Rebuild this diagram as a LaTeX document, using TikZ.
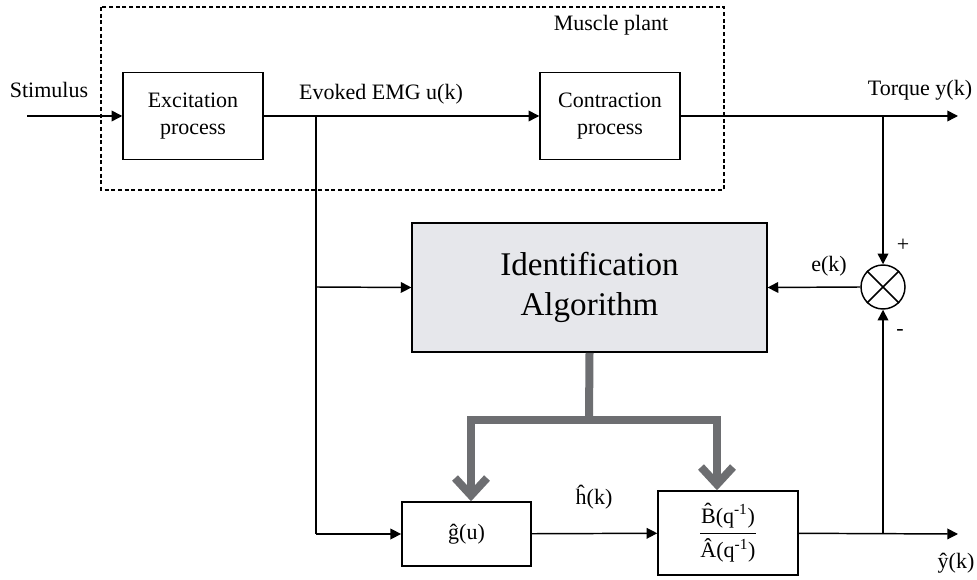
\documentclass[tikz,border=0pt]{standalone}
\usepackage{amsmath}
\usepackage{fontspec}
\setmainfont{Liberation Serif}
\usetikzlibrary{arrows.meta}
\definecolor{idfill}{RGB}{230,231,235}
\definecolor{busgray}{RGB}{109,110,113}
\tikzset{
	blk/.style={draw, line width=1.1pt, inner sep=0pt, align=center, font=\fontsize{16.5}{20}\selectfont},
	lbl/.style={inner sep=0pt, font=\fontsize{16.5}{20}\selectfont},
	arr/.style={line width=1.1pt, -{Triangle[length=8pt,width=8pt]}},
	wire/.style={line width=1.1pt},
	bus/.style={line width=6pt, draw=busgray, line join=miter},
	plant/.style={dash pattern=on 3pt off 2pt, line width=0.9pt}
}
\begin{document}
\begin{tikzpicture}[x=0.75pt, y=-0.75pt]
			%%%%% START %%%%%
			\useasboundingbox (0,0) rectangle (977,580);
			
			\draw[plant] (101,7) rectangle (724,190);
			\node[lbl] (plantlbl) at (611,25) {Muscle plant};
			
			\node[blk, minimum width=105pt, minimum height=65pt] (exc) at (193,116) {Excitation\\process};
			\node[blk, minimum width=105pt, minimum height=65pt] (con) at (610,116) {Contraction\\process};
			\node[blk, fill=idfill, minimum width=266pt, minimum height=97pt,
				font=\fontsize{24.8}{30}\selectfont] (ident) at (589.5,287.5) {Identification\\Algorithm};
			\node[blk, minimum width=97pt, minimum height=48pt] (gbox) at (466.5,534) {\^{g}(u)};
			\node[blk, minimum width=105pt, minimum height=63pt] (ba) at (728,533)
				{$\genfrac{}{}{1.2pt}{0}{\text{\^{B}(q\textsuperscript{-1})}}{\text{\^{A}(q\textsuperscript{-1})}}$};
			\node[draw, circle, line width=1.1pt, minimum size=33pt, inner sep=0pt] (sum) at (883,287) {};
			\draw[line width=1.1pt] (sum.45) -- (sum.225) (sum.135) -- (sum.-45);
			
			\coordinate (stim) at (27,116);
			\coordinate (ju) at (316,116);
			\coordinate (jid) at (316,287);
			\coordinate (jb) at (316,534);
			\coordinate (jy) at (883,116);
			\coordinate (jo) at (883,534);
			\coordinate (yout) at (958,116);
			\coordinate (yhatout) at (958,534);
			\coordinate (busl) at (471,420);
			\coordinate (busr) at (717,420);
			\coordinate (busm) at (589,420);
			
			\draw[arr] (stim) -- (exc);
			\draw[wire] (exc) -- (ju);
			\draw[arr] (ju) -- (con);
			\draw[arr] (con) -- (yout);
			\draw[wire] (ju) -- (jb);
			\draw[arr] (jid) -- (ident.west);
			\draw[arr] (jb) -- (gbox);
			\draw[arr] (gbox) -- (ba);
			\draw[arr] (ba) -- (yhatout);
			\draw[arr] (jy) -- (sum.north);
			\draw[arr] (jo) -- (sum.south);
			\draw[arr] (sum.west) -- (ident.east);
			
			\draw[bus] (ident.south) -- (busm);
			\draw[bus, {Straight Barb[length=13pt,width=24pt]}-{Straight Barb[length=13pt,width=24pt]}]
				(gbox.north -| busl) -- (busl) -- (busr) -- (ba.north -| busr);
			
			\node[lbl] (stimlbl) at (49,90) {Stimulus};
			\node[lbl] (emglbl) at (381,94) {Evoked EMG u(k)};
			\node[lbl] (torqlbl) at (920,90) {Torque y(k)};
			\node[lbl] (elbl) at (829,266) {e(k)};
			\node[lbl] (plus) at (903,245) {+};
			\node[lbl] (minus) at (900,332) {-};
			\node[lbl] (hlbl) at (594,497) {\^{h}(k)};
			\node[lbl] (yhatlbl) at (956,563) {\^{y}(k)};
			%%%%% END %%%%%
\end{tikzpicture}
\end{document}
